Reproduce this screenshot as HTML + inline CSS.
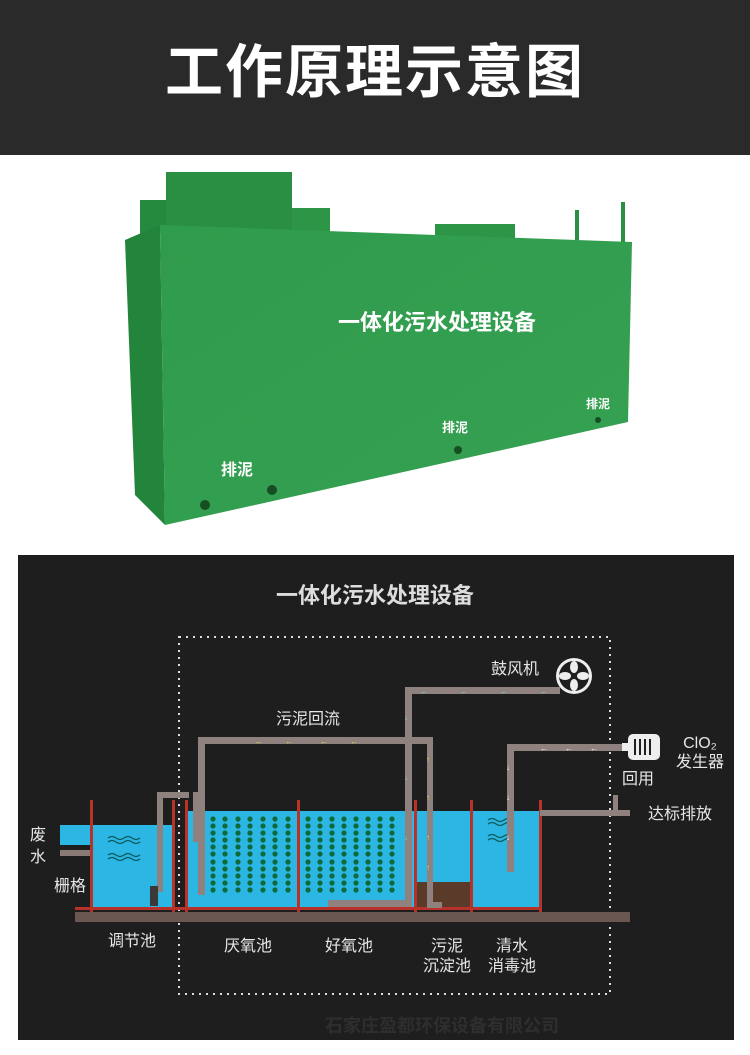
<!DOCTYPE html>
<html><head><meta charset="utf-8"><style>
html,body{margin:0;padding:0;background:#fff;width:750px;height:1055px;overflow:hidden}
svg{display:block}
text{font-family:"Liberation Sans","Noto Sans CJK SC",sans-serif}
</style></head><body>
<svg width="750" height="1055" viewBox="0 0 750 1055" xmlns="http://www.w3.org/2000/svg">
<defs>
<linearGradient id="gf" x1="0" y1="0" x2="1" y2="1"><stop offset="0" stop-color="#2f9b4c"/><stop offset="1" stop-color="#36a152"/></linearGradient>
<g id="col"><circle cx="0" cy="819" r="2.6"/><circle cx="0" cy="826" r="2.6"/><circle cx="0" cy="833" r="2.6"/><circle cx="0" cy="840" r="2.6"/><circle cx="0" cy="847" r="2.6"/><circle cx="0" cy="854" r="2.6"/><circle cx="0" cy="862" r="2.6"/><circle cx="0" cy="869" r="2.6"/><circle cx="0" cy="876" r="2.6"/><circle cx="0" cy="883" r="2.6"/><circle cx="0" cy="890" r="2.6"/></g>
</defs>
<rect x="0" y="0" width="750" height="1055" fill="#fff"/>
<!-- banner -->
<rect x="0" y="0" width="750" height="155" fill="#2a2a2a"/>
<text x="375" y="92" font-size="58" font-weight="bold" fill="#fff" text-anchor="middle" letter-spacing="2">工作原理示意图</text>
<!-- green tank -->
<polygon points="166,172 292,172 292,230 166,230" fill="#2a8f43"/>
<polygon points="140,200 166,200 166,232 140,236" fill="#258a3e"/>
<polygon points="292,208 330,208 330,232 292,232" fill="#2c9646"/>
<polygon points="435,224 515,224 515,240 435,240" fill="#2c9646"/>
<rect x="575" y="210" width="4" height="30" fill="#2a8f43"/>
<rect x="621" y="202" width="4" height="40" fill="#2a8f43"/>
<polygon points="125,240 160,225 165,525 135,495" fill="#23853b"/>
<polygon points="160,225 632,242 628,422 165,525" fill="url(#gf)"/>
<text x="437" y="330" font-size="22" font-weight="bold" fill="#fff" text-anchor="middle">一体化污水处理设备</text>
<text x="237" y="475" font-size="16" font-weight="bold" fill="#fff" text-anchor="middle">排泥</text>
<text x="455" y="432" font-size="13" font-weight="bold" fill="#fff" text-anchor="middle">排泥</text>
<text x="598" y="408" font-size="12" font-weight="bold" fill="#fff" text-anchor="middle">排泥</text>
<circle cx="205" cy="505" r="5" fill="#154e22"/><circle cx="272" cy="490" r="5" fill="#154e22"/>
<circle cx="458" cy="450" r="4" fill="#154e22"/><circle cx="598" cy="420" r="3" fill="#154e22"/>
<!-- diagram panel -->
<rect x="18" y="555" width="716" height="485" fill="#1e1e1e"/>
<text x="375" y="603" font-size="22" font-weight="bold" fill="#ddd" text-anchor="middle">一体化污水处理设备</text>
<rect x="179" y="637" width="431" height="357" fill="none" stroke="#ddd" stroke-width="2" stroke-dasharray="2,5"/>
<!-- base -->
<rect x="75" y="912" width="555" height="10" fill="#6a5752"/>
<!-- water -->
<rect x="60" y="825" width="31" height="20" fill="#2bb6e3"/>
<rect x="93" y="825" width="80" height="82" fill="#2bb6e3"/>
<rect x="187" y="811" width="353" height="96" fill="#2bb6e3"/>
<rect x="417" y="882" width="53" height="28" fill="#5a3a28"/>
<!-- walls -->
<g fill="#b8322a">
<rect x="90" y="800" width="3" height="112"/><rect x="172" y="800" width="3" height="112"/>
<rect x="185" y="800" width="3" height="112"/><rect x="297" y="800" width="3" height="112"/>
<rect x="414" y="800" width="3" height="112"/><rect x="470" y="800" width="3" height="112"/>
<rect x="539" y="800" width="3" height="112"/><rect x="75" y="907" width="467" height="3"/>
</g>
<rect x="60" y="850" width="30" height="6" fill="#8a7a76"/>
<!-- dots -->
<g fill="#0f6a3a">
<use href="#col" x="213"/><use href="#col" x="225"/><use href="#col" x="238"/><use href="#col" x="250"/><use href="#col" x="263"/><use href="#col" x="275"/><use href="#col" x="288"/>
<use href="#col" x="308"/><use href="#col" x="320"/><use href="#col" x="332"/><use href="#col" x="344"/><use href="#col" x="356"/><use href="#col" x="368"/><use href="#col" x="380"/><use href="#col" x="392"/>
</g>
<g fill="none" stroke="#0a5a5a" stroke-width="1.3">
<path d="M108 838 q4 -3 8 0 t8 0 t8 0 t8 0"/><path d="M108 842 q4 -3 8 0 t8 0 t8 0 t8 0"/>
<path d="M108 855 q4 -3 8 0 t8 0 t8 0 t8 0"/><path d="M108 859 q4 -3 8 0 t8 0 t8 0 t8 0"/>
<path d="M488 820 q4 -3 8 0 t8 0 t8 0"/><path d="M488 824 q4 -3 8 0 t8 0 t8 0"/>
<path d="M488 836 q4 -3 8 0 t8 0 t8 0"/><path d="M488 840 q4 -3 8 0 t8 0 t8 0"/>
</g>
<!-- pipes -->
<g fill="#8f817d">
<rect x="157" y="792" width="6" height="100"/><rect x="157" y="792" width="32" height="6"/>
<rect x="150" y="886" width="8" height="20" fill="#3a3a3a"/>
<rect x="193" y="792" width="6" height="50"/>
<rect x="198" y="737" width="235" height="7"/><rect x="198" y="737" width="7" height="158"/>
<rect x="405" y="687" width="155" height="7"/><rect x="405" y="687" width="7" height="220"/>
<rect x="328" y="900" width="84" height="7"/>
<rect x="427" y="737" width="6" height="170"/><rect x="427" y="902" width="15" height="6"/>
<rect x="510" y="744" width="115" height="7"/><rect x="507" y="744" width="7" height="128"/>
<rect x="540" y="810" width="90" height="6"/><rect x="613" y="795" width="5" height="18"/>
</g>
<g font-size="8" fill="#e8d050"><text x="255" y="744">←</text><text x="285" y="744">←</text><text x="320" y="744">←</text><text x="350" y="744">←</text><text x="426" y="762">↑</text><text x="426" y="800">↑</text><text x="426" y="840">↑</text><text x="426" y="870">↑</text></g>
<g font-size="8" fill="#7fd0c0"><text x="420" y="694">←</text><text x="460" y="694">←</text><text x="500" y="694">←</text><text x="540" y="694">←</text><text x="404" y="720">↓</text><text x="404" y="780">↓</text><text x="404" y="840">↓</text></g>
<g font-size="8" fill="#eee"><text x="540" y="751">←</text><text x="565" y="751">←</text><text x="590" y="751">←</text><text x="506" y="770">↓</text><text x="506" y="800">↓</text><text x="506" y="840">↓</text></g>
<!-- blower -->
<circle cx="574" cy="676" r="18" fill="#eee"/><circle cx="574" cy="676" r="15" fill="#1e1e1e"/>
<g fill="#eee"><ellipse cx="574" cy="667" rx="4" ry="6"/><ellipse cx="574" cy="685" rx="4" ry="6"/><ellipse cx="565" cy="676" rx="6" ry="4"/><ellipse cx="583" cy="676" rx="6" ry="4"/></g>
<circle cx="574" cy="676" r="3" fill="#1e1e1e"/>
<!-- motor -->
<rect x="628" y="734" width="32" height="26" rx="5" fill="#eee"/>
<g fill="#1e1e1e"><rect x="634" y="739" width="2" height="16"/><rect x="639" y="739" width="2" height="16"/><rect x="644" y="739" width="2" height="16"/><rect x="649" y="739" width="2" height="16"/></g>
<rect x="622" y="743" width="7" height="8" fill="#eee"/>
<!-- labels -->
<g fill="#e6e6e6" font-size="16">
<text x="515" y="674" text-anchor="middle">鼓风机</text>
<text x="308" y="724" text-anchor="middle">污泥回流</text>
<text x="700" y="748" text-anchor="middle">ClO₂</text>
<text x="700" y="767" text-anchor="middle">发生器</text>
<text x="638" y="784" text-anchor="middle">回用</text>
<text x="680" y="819" text-anchor="middle">达标排放</text>
<text x="38" y="840" text-anchor="middle">废</text>
<text x="38" y="862" text-anchor="middle">水</text>
<text x="70" y="891" text-anchor="middle">栅格</text>
<text x="132" y="946" text-anchor="middle">调节池</text>
<text x="248" y="951" text-anchor="middle">厌氧池</text>
<text x="349" y="951" text-anchor="middle">好氧池</text>
<text x="447" y="951" text-anchor="middle">污泥</text>
<text x="447" y="971" text-anchor="middle">沉淀池</text>
<text x="512" y="951" text-anchor="middle">清水</text>
<text x="512" y="971" text-anchor="middle">消毒池</text>
</g>
<text x="442" y="1032" font-size="18" font-weight="bold" fill="#2e2e2e" text-anchor="middle" font-family="Noto Serif CJK SC, serif">石家庄盈都环保设备有限公司</text>
</svg>
</body></html>
